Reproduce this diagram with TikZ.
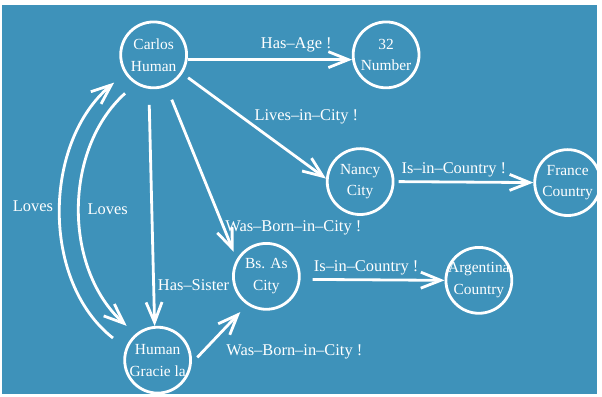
\documentclass[tikz,border=0pt]{standalone}
\usepackage{fontspec}
\setmainfont{Liberation Serif}
\usetikzlibrary{arrows.meta,positioning}
\definecolor{bgblue}{RGB}{62,146,186}

\begin{document}
\begin{tikzpicture}[x=0.025cm,y=0.025cm,
  ent/.style={circle,draw=white,line width=2pt,minimum size=1.65cm,inner sep=-3pt,
    text=white,align=center,font=\fontsize{11}{15.5}\selectfont},
  rel/.style={draw=white,line width=2pt,-{Straight Barb[length=5mm,width=4mm]}},
  lbl/.style={text=white,font=\fontsize{11.7}{13}\selectfont,inner sep=1pt}]
  % 背景
  \fill[white] (0,0) rectangle (602,-397);
  \fill[bgblue] (2,-5) rectangle (598,-395);

  % 節點
  \node[ent] (carlos) at (154,-55) {Carlos\\Human};
  \node[ent] (num) at (387,-55) {32\\Number};
  \node[ent] (nancy) at (361,-182) {Nancy\\City};
  \node[ent] (france) at (569,-183) {France\\Country};
  \node[ent] (bsas) at (267,-277) {Bs. As\\City};
  \node[ent] (arg) at (480,-281) {Argentina\\Country};
  \node[ent] (gra) at (158,-361) {Human\\Gracie la};

  % 關係
  \draw[rel] (carlos.-8) -- (num.-172);
  \draw[rel,shorten <=5pt] (carlos.-33) -- (nancy.175);
  \draw[rel,shorten <=3pt] (nancy.east) -- (france.west);
  \draw[rel,shorten <=0.35cm,shorten >=0.2cm] (carlos.-68) -- (bsas.150);
  \draw[rel,shorten <=0.4cm] (carlos.-98) -- (gra.95);
  \draw[rel,shorten <=0.3cm] (bsas.-5) -- (arg.west);
  \draw[rel,shorten <=0.2cm,shorten >=0.25cm] (gra.-5) -- (bsas.-124);
  \draw[rel,shorten <=0.35cm,shorten >=0.3cm] (carlos.-122) to[out=-138,in=138] (gra.130);
  \draw[rel,shorten <=0.4cm,shorten >=0.35cm] (gra.159) to[out=142,in=-140] (carlos.213);

  % 標籤
  \node[lbl] (lage) at (297,-45) {Has--Age !};
  \node[lbl] (llive) at (307,-117) {Lives--in--City !};
  \node[lbl] (lfr) at (455,-170) {Is--in--Country !};
  \node[lbl] (lborn) at (294,-228) {Was--Born--in--City !};
  \node[lbl] (lsis) at (194,-286) {Has--Sister};
  \node[lbl] (lar) at (367,-268) {Is--in--Country !};
  \node[lbl] (lborn2) at (295,-353) {Was--Born--in--City !};
  \node[lbl] (lloveo) at (33,-207) {Loves};
  \node[lbl] (llovei) at (108,-210) {Loves};
\end{tikzpicture}
\end{document}
